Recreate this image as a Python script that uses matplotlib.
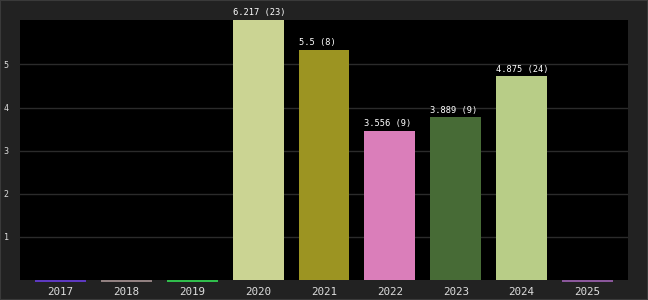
import matplotlib.pyplot as plt
from matplotlib.patches import Rectangle

# data
years = ['2017', '2018', '2019', '2020', '2021', '2022', '2023', '2024', '2025']
bar_heights = [0, 0, 0, 6.03, 5.34, 3.45, 3.77, 4.72, 0]
bar_labels = ['', '', '', '6.217 (23)', '5.5 (8)', '3.556 (9)', '3.889 (9)', '4.875 (24)', '']
bar_colors = ['#6a3ee0', '#a89494', '#33dd55', '#cbd493', '#9c9422',
              '#da7eba', '#476b36', '#b8cd87', '#a062b4']
y_ticks = [1, 2, 3, 4, 5]

fig = plt.figure(figsize=(6.48, 3.0), dpi=100, facecolor='#222222')
ax = fig.add_axes([20 / 648, 20 / 300, 608 / 648, 260 / 300])
ax.set_facecolor('black')

x = list(range(len(years)))
width = 0.773
bars = ax.bar(x, bar_heights, width=width, color=bar_colors, zorder=2)

# zero bars show up as a thin coloured line on the baseline
for xi, h, c in zip(x, bar_heights, bar_colors):
    if h == 0:
        ax.plot([xi - width / 2, xi + width / 2], [-0.012, -0.012], color=c,
                lw=1.2, solid_capstyle='butt', clip_on=False, zorder=3)

for xi, h, lab in zip(x, bar_heights, bar_labels):
    if lab:
        ax.annotate(lab, (xi - width / 2, h), xytext=(0, 2), textcoords='offset points',
                    ha='left', va='bottom', color='white', fontsize=6.3,
                    family='DejaVu Sans Mono', annotation_clip=False, zorder=4)

ax.set_xlim(-0.614, 8.614)
ax.set_ylim(0, 6.03)
ax.set_xticks(x)
ax.set_xticklabels(years, family='DejaVu Sans Mono', fontsize=7.8, color='#dddddd')
ax.set_yticks(y_ticks)
ax.set_yticklabels([str(t) for t in y_ticks], family='DejaVu Sans Mono', fontsize=6, color='#dddddd')
ax.tick_params(axis='x', length=0, pad=5)
ax.tick_params(axis='y', length=0, pad=8)
ax.grid(axis='y', color='#2b2b2b', lw=1, zorder=1)
ax.set_axisbelow(True)
for s in ax.spines.values():
    s.set_visible(False)

fig.patches.append(Rectangle((0, 0), 1, 1, transform=fig.transFigure, fill=False,
                             edgecolor='#3a3a3a', lw=1.5))

fig.savefig('out.png', dpi=100, facecolor=fig.get_facecolor())
